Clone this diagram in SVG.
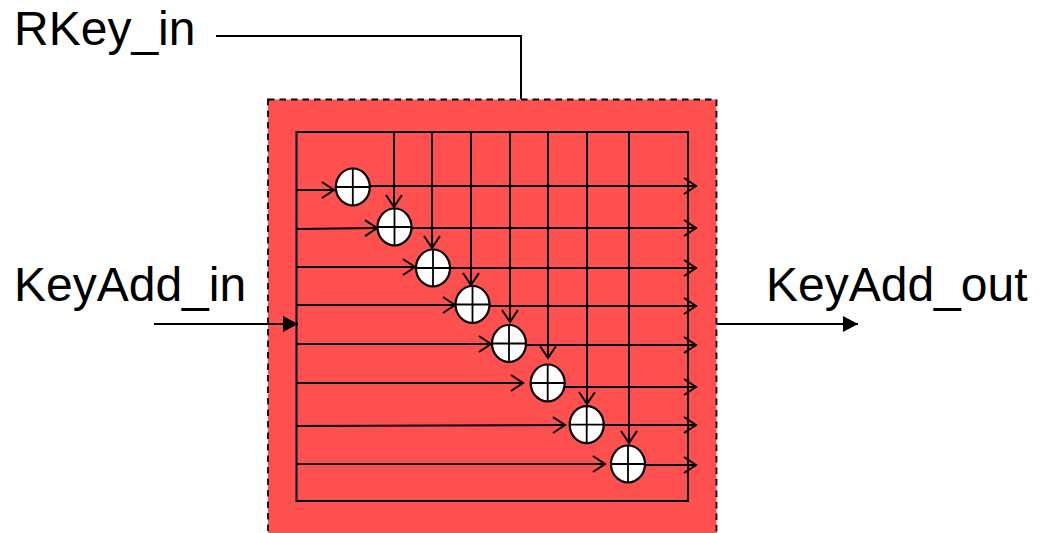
<svg xmlns="http://www.w3.org/2000/svg" width="1048" height="533" viewBox="0 0 1048 533">
<style>
.w{fill:none;stroke:#000;stroke-width:2}
.a{marker-end:url(#open)}
.c{fill:#fff;stroke:#000;stroke-width:2.200}
.x{fill:none;stroke:#000;stroke-width:1.800}
text{font-family:"Liberation Sans",Arial,sans-serif;font-size:48px;fill:#000}
</style>
<defs>
<marker id="open" markerUnits="userSpaceOnUse" markerWidth="18" markerHeight="20" refX="13" refY="9" orient="auto" overflow="visible"><path d="M1 1L13 9L1 17" fill="none" stroke="#000" stroke-width="2"/></marker>
<marker id="solid" markerUnits="userSpaceOnUse" markerWidth="16" markerHeight="18" refX="15" refY="8" orient="auto"><path d="M0 0L15 8L0 16Z" fill="#000"/></marker>
</defs>
<g id="block"><rect x="268" y="99.500" width="448.500" height="440" fill="#ff5050" stroke="#000" stroke-width="1.800" stroke-dasharray="6.500 5"/></g>
<g id="connectors">
<path class="w" d="M216 36H521V99"/>
<path class="w" d="M154 324H298" marker-end="url(#solid)"/>
<path class="w" d="M717 324H858" marker-end="url(#solid)"/>
<rect class="w" x="296.500" y="132" width="391.500" height="369"/>
<path class="w a" d="M297 190H334"/>
<path class="w a" d="M297 229L377 228"/>
<path class="w a" d="M297 267L415 267"/>
<path class="w a" d="M297 305H455"/>
<path class="w a" d="M297 344H491"/>
<path class="w a" d="M297 383H523"/>
<path class="w a" d="M297 426L565 425"/>
<path class="w a" d="M297 464H605"/>
<path class="w a" d="M394 132V207"/>
<path class="w a" d="M432 132V248"/>
<path class="w a" d="M471 132V285"/>
<path class="w a" d="M510 132V322"/>
<path class="w a" d="M548 132V358"/>
<path class="w a" d="M587 132V404"/>
<path class="w a" d="M629 132V443"/>
<path class="w a" d="M370 186H696"/>
<path class="w a" d="M405 228H696"/>
<path class="w a" d="M450 268H696"/>
<path class="w a" d="M490 306H696"/>
<path class="w a" d="M518 345H696"/>
<path class="w a" d="M560 387H696"/>
<path class="w a" d="M593 425H696"/>
<path class="w a" d="M645 465H696"/>
</g>
<g id="xor1"><ellipse class="c" cx="352.800" cy="187" rx="17" ry="18.500"/><path class="x" d="M336 187H370M352.800 169V205"/></g>
<g id="xor2"><ellipse class="c" cx="394.500" cy="227" rx="17" ry="18.500"/><path class="x" d="M378 227H411M394.500 209V245"/></g>
<g id="xor3"><ellipse class="c" cx="433" cy="268" rx="17" ry="18.500"/><path class="x" d="M416 268H450M433 250V286"/></g>
<g id="xor4"><ellipse class="c" cx="472.500" cy="304.500" rx="17" ry="18.500"/><path class="x" d="M456 304.500H489M472.500 286V323"/></g>
<g id="xor5"><ellipse class="c" cx="509" cy="343.500" rx="17" ry="18.500"/><path class="x" d="M492 343.500H526M509 325V362"/></g>
<g id="xor6"><ellipse class="c" cx="547.700" cy="383" rx="17" ry="18.500"/><path class="x" d="M531 383H565M547.700 365V401"/></g>
<g id="xor7"><ellipse class="c" cx="586.700" cy="424.700" rx="17" ry="18.500"/><path class="x" d="M570 424.700H604M586.700 406V443"/></g>
<g id="xor8"><ellipse class="c" cx="628" cy="464" rx="17" ry="18.500"/><path class="x" d="M611 464H645M628 446V482"/></g>
<g id="labels">
<text x="14" y="45">RKey_in</text>
<text x="14" y="301">KeyAdd_in</text>
<text x="766" y="301">KeyAdd_out</text>
</g>
</svg>
